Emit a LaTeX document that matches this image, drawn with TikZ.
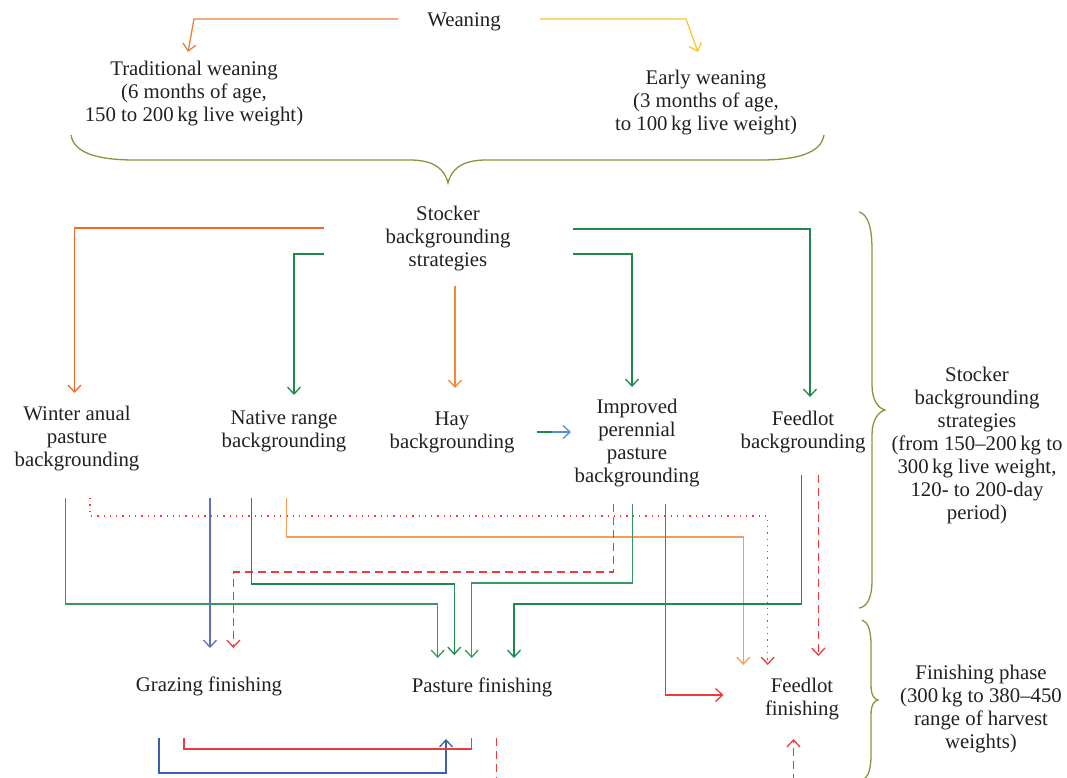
\documentclass[tikz,border=0pt]{standalone}
\usepackage{fontspec}
\setmainfont{Liberation Serif}
\usetikzlibrary{arrows.meta}
\definecolor{cWO}{HTML}{EE7D3B}
\definecolor{cY}{HTML}{FFC230}
\definecolor{cO1}{HTML}{F2692A}
\definecolor{cO2}{HTML}{F7853A}
\definecolor{cO3}{HTML}{F89A5C}
\definecolor{cG}{HTML}{1E8A4A}
\definecolor{cGL}{HTML}{3A965F}
\definecolor{cB}{HTML}{5672C0}
\definecolor{cB2}{HTML}{3F5DB0}
\definecolor{cLB}{HTML}{5A8FD8}
\definecolor{cR}{HTML}{EF3A3A}
\definecolor{cBr}{HTML}{7F9B3E}
\definecolor{cTxt}{HTML}{231F20}
\begin{document}
\begin{tikzpicture}[x=1pt,y=-1pt,
  lbl/.style={align=center, inner sep=0pt, yshift=-2.5pt, font=\fontsize{20.8}{23}\selectfont, text=cTxt},
  plain/.style={line width=1.3pt},
  conn/.style={plain, -{Straight Barb[length=7pt,width=13pt]}},
  dashline/.style={dash pattern=on 8pt off 5pt},
  dotline/.style={dash pattern=on 1.3pt off 5pt},
  bracepath/.style={line width=1.3pt, cBr}]
\useasboundingbox (0,0) rectangle (1067,777);

% nodes
\node[lbl] (wean) at (464,19) {Weaning};
\node[lbl] (trad) at (194,91) {Traditional weaning\\(6 months of age,\\150 to 200\,kg live weight)};
\node[lbl] (early) at (706,100) {Early weaning\\(3 months of age,\\to 100\,kg live weight)};
\node[lbl] (stock) at (448,236) {Stocker\\backgrounding\\strategies};
\node[lbl] (winter) at (77,436) {Winter anual\\pasture\\backgrounding};
\node[lbl] (native) at (284,429) {Native range\\backgrounding};
\node[lbl] (hay) at (452,430) {Hay\\backgrounding};
\node[lbl] (impr) at (637,441) {Improved\\perennial\\pasture\\backgrounding};
\node[lbl] (fbg) at (803,430) {Feedlot\\backgrounding};
\node[lbl] (stockR) at (977,443) {Stocker\\backgrounding\\strategies\\(from 150--200\,kg to\\300\,kg live weight,\\120- to 200-day\\period)};
\node[lbl] (graz) at (209,684) {Grazing finishing};
\node[lbl] (past) at (482,685) {Pasture finishing};
\node[lbl] (ffin) at (802,697) {Feedlot\\finishing};
\node[lbl] (finR) at (981,707) {Finishing phase\\(300\,kg to 380--450\\range of harvest\\weights)};

% weaning connectors
\coordinate (wL) at (398,19);
\coordinate (wR) at (540,19);
\draw[conn,cWO] (wL) -- (194,19) -- (188,52);
\draw[conn,cY] (wR) -- (686,19) -- (698,52);

% top brace
\draw[bracepath] (71,135) .. controls (74,154) and (100,160) .. (135,160) -- (410,160)
  .. controls (435,160) and (445,170) .. (448,183)
  .. controls (451,170) and (461,160) .. (486,160) -- (760,160)
  .. controls (795,160) and (821,154) .. (824,135);

% stocker to strategies
\coordinate (sL1) at (324,228);
\coordinate (sL2) at (324,254);
\coordinate (sR1) at (573,229);
\coordinate (sR2) at (573,254);
\coordinate (sB) at (455,286);
\draw[conn,cO1] (sL1) -- (74.5,228) -- (74.5,393);
\draw[conn,cG] (sL2) -- (294,254) -- (294,395);
\draw[conn,cO2] (sB) -- (455,388);
\draw[conn,cG] (sR1) -- (810,229) -- (810,397);
\draw[conn,cG] (sR2) -- (632,254) -- (632,387);

% hay -> improved
\coordinate (hA) at (537,432);
\coordinate (hB) at (552,432);
\draw[plain,cG] (hA) -- (hB);
\draw[conn,cLB] (hB) -- (571,432);

% right brace (stocker)
\draw[bracepath] (859,212) .. controls (867,214) and (872,225) .. (872,250) -- (872,385)
  .. controls (872,400) and (878,408) .. (885,410)
  .. controls (878,412) and (872,420) .. (872,435) -- (872,580)
  .. controls (872,600) and (866,607) .. (859,608);

% lower brace (finishing)
\draw[bracepath] (862,620) .. controls (868,622) and (871,630) .. (871,645) -- (871,685)
  .. controls (871,695) and (874,699) .. (878,700)
  .. controls (874,701) and (871,705) .. (871,715) -- (871,755)
  .. controls (871,770) and (868,778) .. (862,780);

% strategies -> finishing
\coordinate (wi1) at (65.7,498);
\coordinate (wi2) at (90,498);
\coordinate (na0) at (210,498);
\coordinate (na1) at (251.7,498);
\coordinate (ha1) at (286.7,498);
\coordinate (im1) at (613.7,504);
\coordinate (im2) at (632.3,504);
\coordinate (im3) at (665.7,504);
\coordinate (fb1) at (801.7,475);
\coordinate (fb2) at (818.3,475);

\draw[conn,cR,dotline] (wi2) -- (90,516) -- (767.7,516) -- (767.7,665);
\draw[conn,cO3] (ha1) -- (286.7,537) -- (743.3,537) -- (743.3,665);
\draw[conn,cR,dashline] (im1) -- (613.7,572) -- (233.3,572) -- (233.3,648);
\draw[conn,cG] (na1) -- (251.7,584) -- (454.3,584) -- (454.3,655);
\draw[conn,cGL] (im2) -- (632.3,583) -- (471.7,583) -- (471.7,658);
\draw[conn,cGL] (wi1) -- (65.7,604) -- (437.7,604) -- (437.7,658);
\draw[conn,cG] (fb1) -- (801.7,604) -- (514,604) -- (514,658);
\draw[conn,cB] (na0) -- (210,648);
\draw[conn,cR] (im3) -- (665.7,695) -- (723.5,695);
\draw[conn,cR,dashline] (fb2) -- (818.3,656);

% bottom connectors
\coordinate (bb1) at (159,738);
\coordinate (br1) at (184,738);
\coordinate (bd1) at (496.7,738);
\coordinate (bd2) at (793.5,782);
\draw[conn,cB2] (bb1) -- (159,773) -- (446,773) -- (446,739);
\draw[plain,cR] (br1) -- (184,749) -- (471.7,749) -- (471.7,738);
\draw[plain,cR,dashline] (bd1) -- (496.7,780);
\draw[conn,cR,dashline] (bd2) -- (793.5,739);
\end{tikzpicture}
\end{document}
